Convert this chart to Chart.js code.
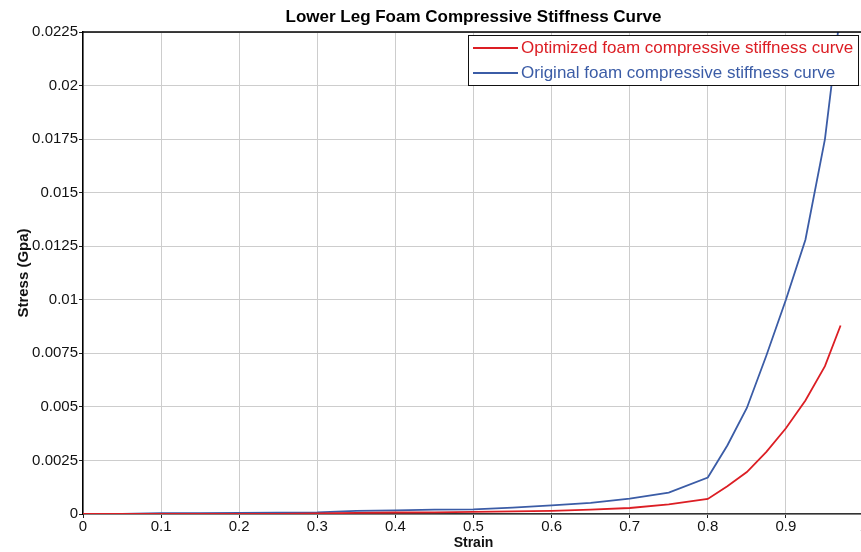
<!DOCTYPE html>
<html>
<head>
<meta charset="utf-8">
<script src="https://cdn.jsdelivr.net/npm/chart.js@4/dist/chart.umd.min.js"></script>
<style>
  html, body { margin: 0; padding: 0; background: #fff; overflow: hidden; }
  #wrap { width: 870px; height: 552px; }
</style>
</head>
<body>
<div id="wrap"><canvas id="stiffnessChart" width="870" height="552"></canvas></div>
<script>
// strain values (x) shared by both curves
const strain = [0, 0.05, 0.1, 0.15, 0.2, 0.25, 0.3, 0.35, 0.4, 0.45, 0.5, 0.55, 0.6, 0.65, 0.7, 0.75, 0.8, 0.825, 0.85, 0.875, 0.9, 0.925, 0.95, 0.97];
const optimizedStress = [0, 0, 0, 0, 0, 0.00001, 0.00003, 0.00005, 0.00007, 0.00008, 0.0001, 0.00012, 0.00015, 0.0002, 0.00028, 0.00045, 0.0007, 0.0013, 0.00196, 0.0029, 0.004, 0.0053, 0.0069, 0.0088];
const originalStress = [0, 0, 0.00004, 0.00004, 0.00005, 0.00006, 0.00008, 0.00015, 0.00017, 0.0002, 0.00022, 0.0003, 0.0004, 0.00052, 0.00072, 0.001, 0.0017, 0.0032, 0.00495, 0.0074, 0.01, 0.0128, 0.0175, 0.0235];
const seriesLabels = ['Optimized foam compressive stiffness curve', 'Original foam compressive stiffness curve'];
const seriesColors = ['#dc1e24', '#3b5ca6'];
const xTickLabels = ['0', '0.1', '0.2', '0.3', '0.4', '0.5', '0.6', '0.7', '0.8', '0.9', '1'];
const yTickLabels = ['0', '0.0025', '0.005', '0.0075', '0.01', '0.0125', '0.015', '0.0175', '0.02', '0.0225'];

const chartTitle = 'Lower Leg Foam Compressive Stiffness Curve';

function toPoints(ys) {
    return strain.map((x, i) => ({ x: x, y: ys[i] }));
}

// title centred on the plot, top border and boxed legend inside the plot
const frameAndLegend = {
    id: 'frameAndLegend',
    afterDraw(chart) {
        const ctx = chart.ctx;
        const area = chart.chartArea;
        ctx.save();

        ctx.fillStyle = '#000';
        ctx.font = 'bold 17px "Liberation Sans", Arial, sans-serif';
        ctx.textAlign = 'center';
        ctx.textBaseline = 'middle';
        ctx.fillText(chartTitle, (area.left + area.right) / 2, 17);

        ctx.strokeStyle = '#000';
        ctx.lineWidth = 1.5;
        ctx.beginPath();
        ctx.moveTo(area.left, area.top);
        ctx.lineTo(area.right, area.top);
        ctx.stroke();

        // legend box
        const bx = 468.5, by = 35.5, bw = 390, bh = 50;
        ctx.fillStyle = '#fff';
        ctx.fillRect(bx, by, bw, bh);
        ctx.lineWidth = 1;
        ctx.strokeStyle = '#111';
        ctx.strokeRect(bx, by, bw, bh);

        ctx.font = '17px "Liberation Sans", Arial, sans-serif';
        ctx.textAlign = 'left';
        chart.data.datasets.forEach((ds, i) => {
            const y = 48 + i * 25;
            ctx.strokeStyle = ds.borderColor;
            ctx.lineWidth = 2;
            ctx.beginPath();
            ctx.moveTo(473, y);
            ctx.lineTo(518, y);
            ctx.stroke();
            ctx.fillStyle = ds.borderColor;
            ctx.fillText(ds.label, 521, y);
        });
        ctx.restore();
    }
};

const ctx = document.getElementById('stiffnessChart').getContext('2d');
new Chart(ctx, {
    type: 'line',
    data: {
        datasets: [
            {
                label: seriesLabels[0],
                data: toPoints(optimizedStress),
                borderColor: seriesColors[0],
                borderWidth: 1.8,
                pointRadius: 0,
                tension: 0,
                fill: false
            },
            {
                label: seriesLabels[1],
                data: toPoints(originalStress),
                borderColor: seriesColors[1],
                borderWidth: 1.8,
                pointRadius: 0,
                tension: 0,
                fill: false
            }
        ]
    },
    options: {
        responsive: false,
        animation: false,
        layout: {
            padding: { top: 32, right: 6, left: 0, bottom: 0 }
        },
        plugins: {
            legend: { display: false },
            title: { display: false },
            tooltip: { enabled: false }
        },
        scales: {
            x: {
                type: 'linear',
                min: 0,
                max: 1,
                ticks: {
                    stepSize: 0.1,
                    padding: 0,
                    color: '#111',
                    font: { family: '"Liberation Sans", Arial, sans-serif', size: 15 },
                    maxRotation: 0,
                    callback: function (value, index) {
                        return xTickLabels[index];
                    }
                },
                grid: {
                    color: '#cdcdcd',
                    lineWidth: 1,
                    tickColor: '#222',
                    tickLength: 4
                },
                border: { color: '#333', width: 1.5 },
                title: {
                    display: true,
                    text: 'Strain',
                    color: '#111',
                    font: { family: '"Liberation Sans", Arial, sans-serif', size: 14, weight: 'bold' },
                    padding: { top: 0, bottom: 0 }
                },
                afterFit: function (scale) {
                    scale.height = 38;
                }
            },
            y: {
                type: 'linear',
                min: 0,
                max: 0.0225,
                ticks: {
                    stepSize: 0.0025,
                    padding: 1,
                    color: '#111',
                    font: { family: '"Liberation Sans", Arial, sans-serif', size: 15 },
                    callback: function (value, index) {
                        return yTickLabels[index];
                    }
                },
                grid: {
                    color: '#cdcdcd',
                    lineWidth: 1,
                    tickColor: '#222',
                    tickLength: 4
                },
                border: { color: '#000', width: 1.5 },
                title: {
                    display: true,
                    text: 'Stress (Gpa)',
                    color: '#111',
                    font: { family: '"Liberation Sans", Arial, sans-serif', size: 15, weight: 'bold' },
                    padding: { top: 15, bottom: 0 }
                },
                afterFit: function (scale) {
                    scale.width = 83;
                }
            }
        }
    },
    plugins: [frameAndLegend]
});
</script>
</body>
</html>
